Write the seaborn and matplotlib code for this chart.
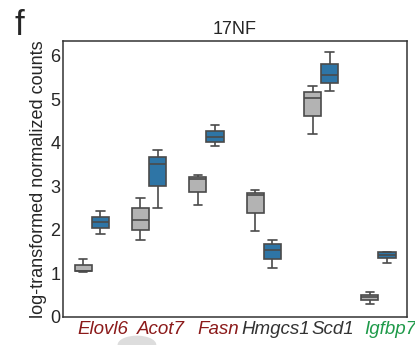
import numpy as np
import pandas as pd
import matplotlib
matplotlib.use('Agg')
import matplotlib.pyplot as plt
import seaborn as sns
from matplotlib.patches import Ellipse

# genes and their label colours
genes = ['Elovl6', 'Acot7', 'Fasn', 'Hmgcs1', 'Scd1', 'Igfbp7']
label_colors = ['#8b1a1a', '#8b1a1a', '#8b1a1a', '#333333', '#333333', '#1f9a4a']

# values per gene: [min, q1, median, q3, max]
ctrl = {
    'Elovl6': [1.03, 1.04, 1.06, 1.19, 1.33],
    'Acot7':  [1.76, 1.99, 2.23, 2.50, 2.74],
    'Fasn':   [2.57, 2.87, 3.17, 3.21, 3.25],
    'Hmgcs1': [1.98, 2.38, 2.81, 2.85, 2.91],
    'Scd1':   [4.21, 4.62, 5.02, 5.16, 5.31],
    'Igfbp7': [0.30, 0.39, 0.45, 0.51, 0.57],
}
treat = {
    'Elovl6': [1.90, 2.04, 2.17, 2.29, 2.42],
    'Acot7':  [2.50, 3.00, 3.51, 3.67, 3.83],
    'Fasn':   [3.93, 4.02, 4.14, 4.28, 4.42],
    'Hmgcs1': [1.13, 1.33, 1.54, 1.67, 1.77],
    'Scd1':   [5.20, 5.37, 5.57, 5.82, 6.08],
    'Igfbp7': [1.24, 1.35, 1.43, 1.48, 1.49],
}

rows = []
for g in genes:
    for v in ctrl[g]:
        rows.append((g, 'ctrl', v))
    for v in treat[g]:
        rows.append((g, '17NF', v))
df = pd.DataFrame(rows, columns=['gene', 'group', 'value'])

sns.set_style('white')
plt.rcParams['font.family'] = ['Liberation Sans', 'DejaVu Sans']

fig, ax = plt.subplots(figsize=(4.15, 3.45), dpi=100)
fig.subplots_adjust(left=0.152, right=0.981, top=0.881, bottom=0.082)

sns.boxplot(data=df, x='gene', y='value', hue='group', order=genes,
            hue_order=['ctrl', '17NF'], palette=['#b3b3b3', '#2e75a6'],
            saturation=1, width=0.6, whis=(0, 100), linecolor='#4a4a4a',
            linewidth=1.2, ax=ax, legend=False)

ax.set_ylim(0, 6.34)
ax.set_xlim(-0.5, 5.5)
ax.set_yticks(range(7))
ax.tick_params(axis='y', labelsize=13, length=0, pad=2, labelcolor='#262626')
ax.set_xticks(np.arange(len(genes)) + 0.2)
ax.set_xticklabels(genes, fontsize=13.5, style='italic')
ax.tick_params(axis='x', length=0, pad=3)
for lab, c in zip(ax.get_xticklabels(), label_colors):
    lab.set_color(c)
ax.set_xlabel('')
ax.set_ylabel('log-transformed normalized counts', fontsize=13, labelpad=2)
ax.set_title('17NF', fontsize=13, pad=5)
for s in ax.spines.values():
    s.set_color('#333333')
    s.set_linewidth(1.1)

fig.text(0.035, 0.975, 'f', fontsize=25, va='top', ha='left')
fig.patches.append(Ellipse((0.33, 0.0), 0.09, 0.05, transform=fig.transFigure,
                           color='#dddddd', zorder=0))

plt.savefig('out.png', dpi=100)
